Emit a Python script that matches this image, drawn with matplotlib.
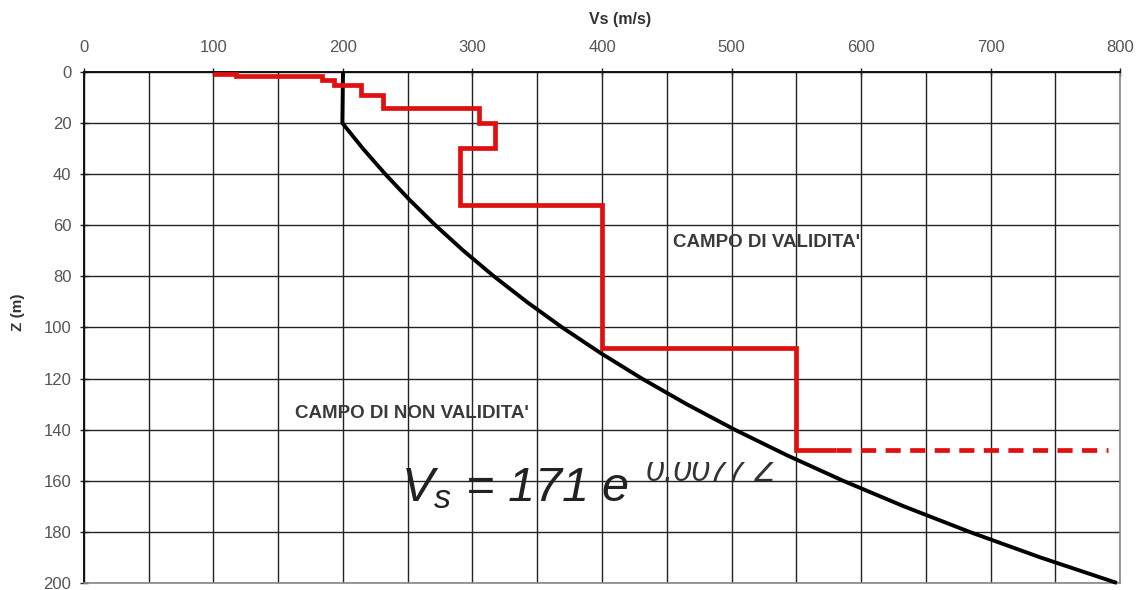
import matplotlib
matplotlib.use("Agg")
import matplotlib.pyplot as plt
from matplotlib.transforms import Bbox, TransformedBbox

plt.rcParams['font.family'] = ['Liberation Sans', 'DejaVu Sans']
plt.rcParams['mathtext.fontset'] = 'custom'
plt.rcParams['mathtext.it'] = 'Liberation Sans:italic'
plt.rcParams['mathtext.rm'] = 'Liberation Sans'

# ---- data ----
# limit curve Vs = 171 e^(0.0077 Z) (black)
curve_z = [0, 20, 30, 40, 50, 60, 70, 80, 90, 100, 110, 120, 130, 140, 150,
           160, 170, 180, 190, 200]
curve_vs = [200, 199.5, 215.4, 232.7, 251.3, 271.4, 293.1, 316.6, 342.0, 369.3,
            398.9, 430.8, 465.3, 502.5, 542.8, 586.2, 633.1, 683.8, 738.5, 797.6]

# measured Vs profile (red step line)
profile_start_vs = 100
profile_interfaces = [0.7, 1.7, 3.0, 5.2, 9.2, 14.2, 20.1, 29.6, 52, 108, 148]
profile_vs = [117, 184, 193, 214, 231, 305, 317, 290, 400, 550]
profile_end_vs = 581
extension_end_vs = 791

x_ticks = [0, 100, 200, 300, 400, 500, 600, 700, 800]
y_ticks = [0, 20, 40, 60, 80, 100, 120, 140, 160, 180, 200]

# ---- build step path ----
xs = [profile_start_vs]
zs = [profile_interfaces[0]]
for i, v in enumerate(profile_vs):
    xs += [v, v]
    zs += [profile_interfaces[i], profile_interfaces[i + 1]]
xs.append(profile_end_vs)
zs.append(profile_interfaces[-1])

fig = plt.figure(figsize=(11.38, 5.90), dpi=100)
ax = fig.add_axes([0.0738, 0.0119, 0.9104, 0.8661])
ax.set_xlim(0, 800)
ax.set_ylim(200, 0)

ax.xaxis.tick_top()
ax.xaxis.set_label_position('top')
ax.set_xticks(x_ticks)
ax.set_xticks(range(50, 800, 100), minor=True)
ax.set_yticks(y_ticks)
ax.tick_params(axis='both', which='major', direction='inout', length=6, width=1,
               labelsize=12, labelcolor='#555555', color='#222222')
ax.tick_params(axis='x', which='minor', length=0)
ax.tick_params(axis='x', which='major', pad=9)
ax.tick_params(axis='y', which='major', pad=6)
ax.grid(True, which='both', color='#222222', linewidth=1.0)
ax.set_axisbelow(True)

for s in ['top', 'left']:
    ax.spines[s].set_color('#111111')
    ax.spines[s].set_linewidth(1.4)
for s in ['bottom', 'right']:
    ax.spines[s].set_color('#888888')
    ax.spines[s].set_linewidth(1.2)

ax.set_xlabel('Vs (m/s)', fontsize=11.5, fontweight='bold', color='#333333')
ax.set_ylabel('Z (m)', fontsize=11, fontweight='bold', color='#333333')
ax.xaxis.set_label_coords(0.517, 1.094)
ax.yaxis.set_label_coords(-0.057, 0.53)

# black limit curve
ax.plot(curve_vs, curve_z, color='black', linewidth=2.8, clip_on=False,
        solid_capstyle='butt', zorder=3)

# red profile
ax.plot(xs, zs, color='#e01010', linewidth=3.4, solid_joinstyle='miter',
        solid_capstyle='butt', zorder=4)
ax.plot([profile_end_vs, extension_end_vs], [profile_interfaces[-1]] * 2,
        color='#e01010', linewidth=3.4, dashes=(3.2, 2.0), zorder=4)

# annotations
ax.text(455, 66.8, "CAMPO DI VALIDITA'", fontsize=13.5, fontweight='bold',
        color='#3a3a3a', va='center', ha='left')
ax.text(163, 133.5, "CAMPO DI NON VALIDITA'", fontsize=13.5, fontweight='bold',
        color='#3a3a3a', va='center', ha='left')

ax.text(245, 168, r"$V_s$ = 171 e", fontsize=35, style='italic', color='#222222',
        va='baseline', ha='left')
exp_txt = ax.text(434, 160.2, "0.0077 Z", fontsize=23.5, style='italic',
                  color='#333333', va='baseline', ha='left')
exp_txt.set_clip_box(TransformedBbox(Bbox([[0, 152.8], [800, 200]]), ax.transData))
exp_txt.set_clip_on(True)

fig.savefig('out.png', dpi=100)
